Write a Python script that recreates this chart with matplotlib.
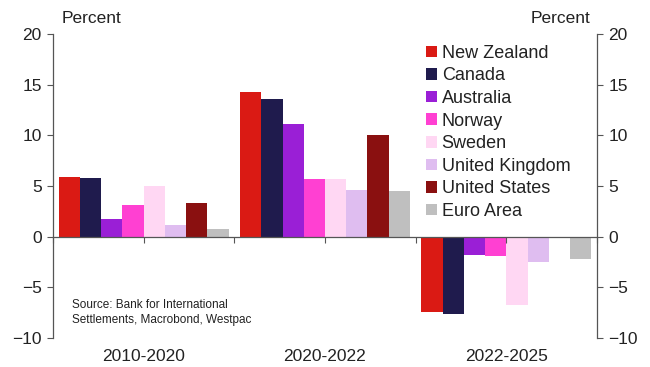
import numpy as np
import matplotlib
matplotlib.use("Agg")
import matplotlib.pyplot as plt
from matplotlib.transforms import blended_transform_factory

plt.rcParams['font.family'] = ['Liberation Sans', 'DejaVu Sans']

periods = ['2010-2020', '2020-2022', '2022-2025']
countries = ['New Zealand', 'Canada', 'Australia', 'Norway', 'Sweden',
             'United Kingdom', 'United States', 'Euro Area']
colors = ['#da1a14', '#1f1b4d', '#9a1fd6', '#ff40d2', '#ffd7f3',
          '#dfbdf0', '#8a1010', '#bfbfbf']

new_zealand = [5.9, 14.3, -7.4]
canada = [5.8, 13.6, -7.6]
australia = [1.7, 11.1, -1.8]
norway = [3.1, 5.7, -1.9]
sweden = [5.0, 5.7, -6.7]
united_kingdom = [1.2, 4.6, -2.5]
united_states = [3.3, 10.0, np.nan]
euro_area = [0.8, 4.5, -2.2]
series = [new_zealand, canada, australia, norway, sweden,
          united_kingdom, united_states, euro_area]

fig = plt.figure(figsize=(6.5, 3.67), dpi=100)
ax = fig.add_axes([0.0815, 0.079, 0.837, 0.828])

x = np.arange(len(periods))
w = 0.117
for i, (vals, c, name) in enumerate(zip(series, colors, countries)):
    ax.bar(x + (i - 3.5) * w, vals, w, color=c, label=name)

ax.set_xlim(-0.5, 2.5)
ax.set_ylim(-10, 20)
ax.set_yticks([-10, -5, 0, 5, 10, 15, 20])

ax.spines['top'].set_visible(False)
ax.spines['bottom'].set_position(('data', 0))
for s in ['left', 'right', 'bottom']:
    ax.spines[s].set_color('#555555')
    ax.spines[s].set_linewidth(0.9)

ax.set_xticks(np.arange(-0.5, 2.51, 0.5))
ax.set_xticklabels([])
ax.tick_params(axis='x', direction='out', length=4, color='#555555')
ax.tick_params(axis='y', labelsize=12.5, length=4, color='#555555',
               labelcolor='#222222', left=True, right=True,
               labelleft=True, labelright=True, pad=4)

# period labels sit below the plot, not at the zero line
tr = blended_transform_factory(ax.transData, ax.transAxes)
for xi, p in zip(x, periods):
    ax.text(xi, -0.035, p, transform=tr, ha='center', va='top',
            fontsize=12.5, color='#222222')

fig.text(0.095, 0.95, 'Percent', ha='left', va='center', fontsize=12.5, color='#222222')
fig.text(0.908, 0.95, 'Percent', ha='right', va='center', fontsize=12.5, color='#222222')

ax.text(0.035, 0.128, 'Source: Bank for International\nSettlements, Macrobond, Westpac',
        transform=ax.transAxes, ha='left', va='top', fontsize=8.5,
        color='#222222', linespacing=1.3)

leg = fig.legend(*ax.get_legend_handles_labels(), loc='upper left',
                 bbox_to_anchor=(0.655, 0.878), frameon=False,
                 fontsize=13, handlelength=0.6, handleheight=0.6,
                 handletextpad=0.28, labelspacing=0.31,
                 borderaxespad=0, borderpad=0)
for t in leg.get_texts():
    t.set_color('#222222')

fig.savefig('out.png', dpi=100)
